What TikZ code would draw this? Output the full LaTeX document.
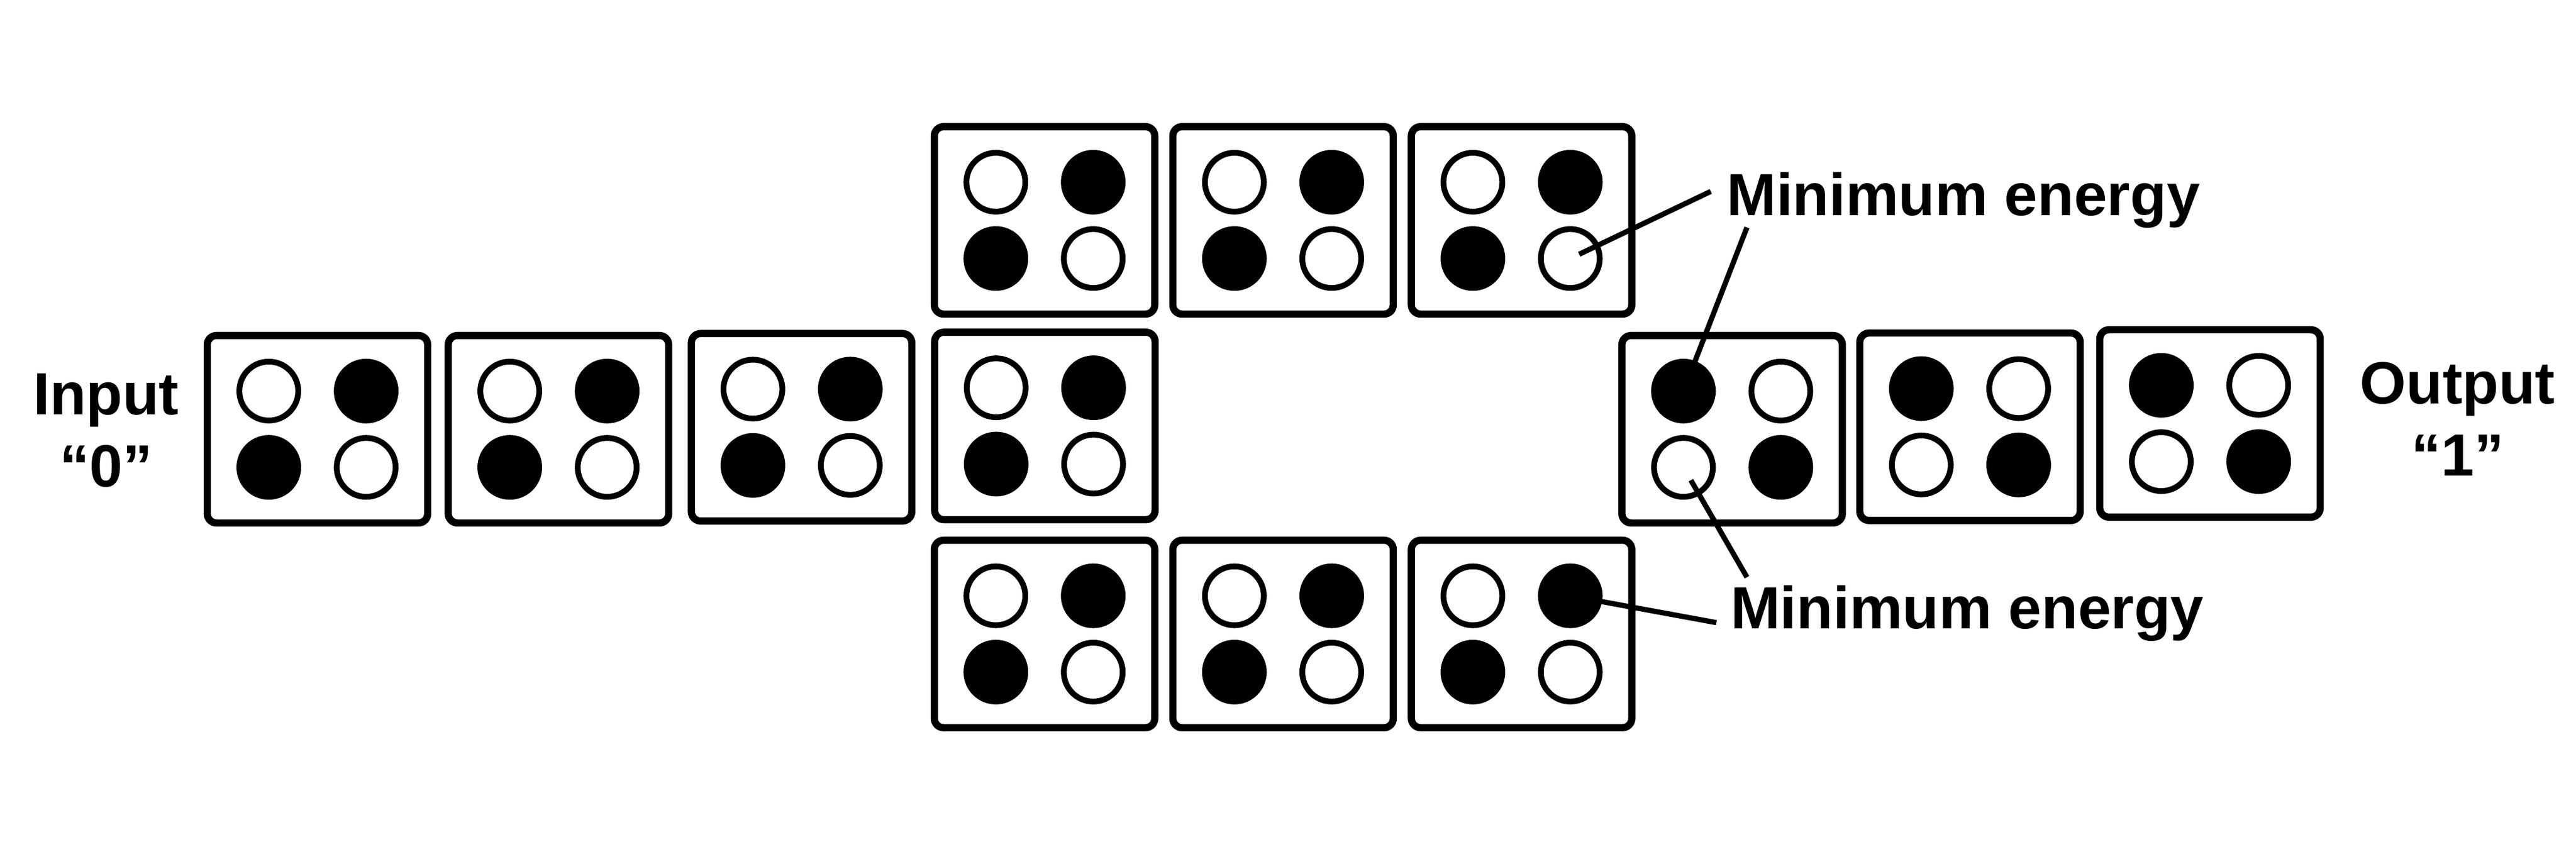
\documentclass[tikz,border=0pt]{standalone}
\usepackage{fontspec}
\setmainfont{Liberation Sans}
\usepackage{xcolor}
\usepackage{tikz}
\usetikzlibrary{calc}
\tikzset{
  cellbox/.style={draw, line width=1.25pt, rounded corners=1.6pt, minimum width=1.34cm, minimum height=1.14cm, inner sep=0pt},
  spin/.style={circle, draw, line width=1pt, minimum size=0.358cm, inner sep=0pt},
  wdot/.style={spin, fill=white},
  bdot/.style={spin, fill=black},
  lab/.style={font=\fontsize{10.3}{12.4}\selectfont\bfseries, align=center},
  lead/.style={line width=0.9pt},
}
% one cell: box and four dots, #3 = top left / bottom right, #4 = the other two
\newcommand{\spincell}[4]{%
  \node[cellbox] (#1) at (#2) {};
  \node[#3] (#1-tl) at ($(#1)+(-0.296,0.232)$) {};
  \node[#4] (#1-tr) at ($(#1)+(0.296,0.232)$) {};
  \node[#4] (#1-bl) at ($(#1)+(-0.296,-0.232)$) {};
  \node[#3] (#1-br) at ($(#1)+(0.296,-0.232)$) {};
}

\begin{document}
\begin{tikzpicture}
  \path[use as bounding box, fill=white] (0,0) rectangle (15.66,-5.22);

  % input side and centre column
  \spincell{l1}{1.93,-2.61}{wdot}{bdot}
  \spincell{l2}{3.395,-2.61}{wdot}{bdot}
  \spincell{l3}{4.873,-2.598}{wdot}{bdot}
  \spincell{c}{6.352,-2.59}{wdot}{bdot}
  \spincell{t1}{6.35,-1.34}{wdot}{bdot}
  \spincell{t2}{7.80,-1.34}{wdot}{bdot}
  \spincell{t3}{9.25,-1.34}{wdot}{bdot}
  \spincell{b1}{6.35,-3.855}{wdot}{bdot}
  \spincell{b2}{7.80,-3.855}{wdot}{bdot}
  \spincell{b3}{9.25,-3.855}{wdot}{bdot}
  % output side
  \spincell{r1}{10.53,-2.61}{bdot}{wdot}
  \spincell{r2}{11.976,-2.595}{bdot}{wdot}
  \spincell{r3}{13.435,-2.575}{bdot}{wdot}

  \node[lab] (in) at (0.645,-2.618) {Input\\“0”};
  \node[lab] (out) at (14.94,-2.548) {Output\\“1”};
  \node[lab, anchor=base west, inner sep=0pt] (mtop) at (10.49,-1.31) {Minimum energy};
  \node[lab, anchor=base west, inner sep=0pt] (mbot) at (10.514,-3.822) {Minimum energy};

  \coordinate (m1) at (10.40,-1.164);
  \coordinate (m2) at (10.62,-1.383);
  \coordinate (m3) at (10.62,-3.51);
  \coordinate (m4) at (10.434,-3.786);
  \draw[lead, shorten >=0.06cm] (m1) -- (t3-br.center);
  \draw[lead] (m2) -- (r1-tl.center);
  \draw[lead, shorten >=0.09cm] (m3) -- (r1-bl.center);
  \draw[lead] (m4) -- (b3-tr.center);
\end{tikzpicture}
\end{document}
